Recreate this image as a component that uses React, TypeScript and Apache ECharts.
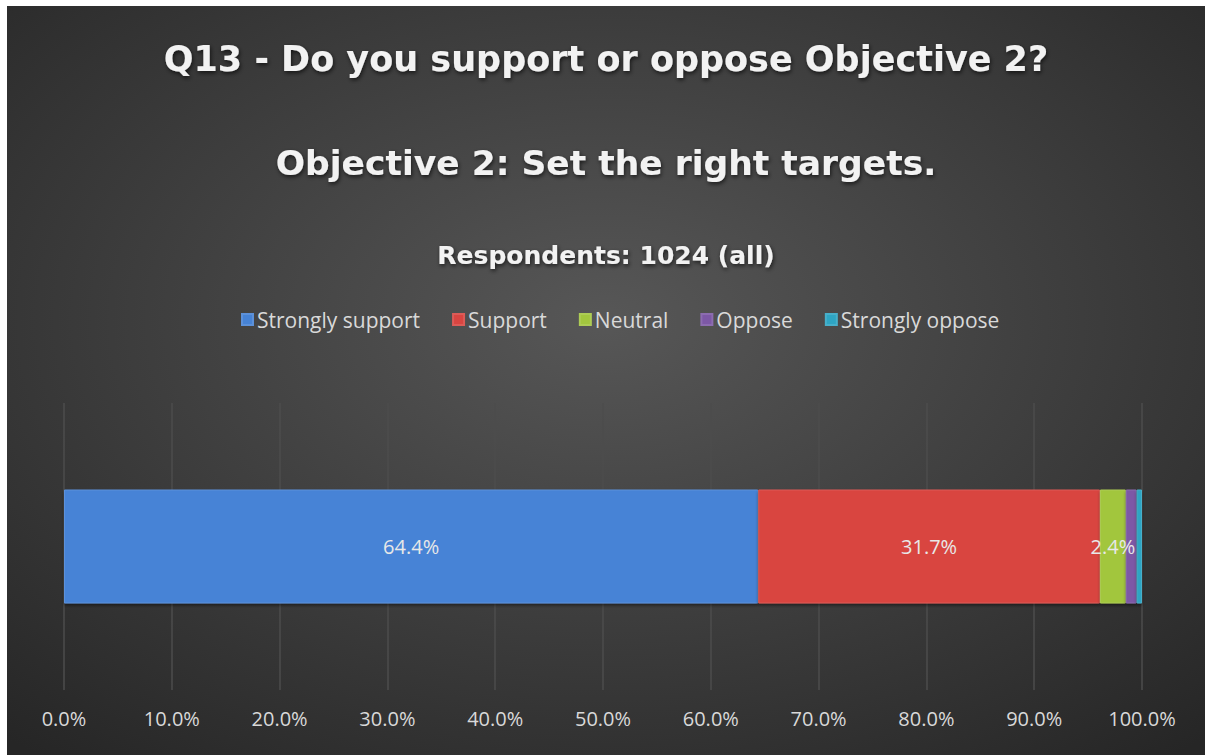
import React, { useEffect, useRef } from "react";
import * as echarts from "echarts";

const categories = ["Q13"];
const seriesNames = ["Strongly support", "Support", "Neutral", "Oppose", "Strongly oppose"];
const seriesValues = [64.4, 31.7, 2.4, 1.0, 0.5];
const seriesColors = ["#4683d6", "#d94541", "#a2c63e", "#7d58a6", "#2ea5c3"];
const showLabel = [true, true, true, false, false];
const xTicks = { min: 0, max: 100, interval: 10 };
const titleLines = [
  "Q13 - Do you support or oppose Objective 2?",
  "Objective 2: Set the right targets.",
  "Respondents: 1024 (all)",
];

export default function App() {
  const ref = useRef<HTMLDivElement>(null);
  useEffect(() => {
    document.body.style.margin = "0";
    const chart = echarts.init(ref.current!, null, { renderer: "svg" });
    const shadow = {
      textShadowColor: "rgba(0,0,0,0.65)",
      textShadowBlur: 4,
      textShadowOffsetX: 1,
      textShadowOffsetY: 2,
    };
    chart.setOption({
      animation: false,
      backgroundColor: {
        type: "radial",
        x: 0.5,
        y: 0.42,
        r: 0.75,
        colorStops: [
          { offset: 0, color: "#575757" },
          { offset: 1, color: "#262626" },
        ],
      },
      title: [
        {
          text: titleLines[0],
          left: "center",
          top: 30,
          textStyle: { fontFamily: "DejaVu Sans", fontWeight: "bold", fontSize: 35, color: "#f2f2f2", ...shadow },
        },
        {
          text: titleLines[1],
          left: "center",
          top: 134,
          textStyle: { fontFamily: "DejaVu Sans", fontWeight: "bold", fontSize: 34.5, color: "#f2f2f2", ...shadow },
        },
        {
          text: titleLines[2],
          left: "center",
          top: 232,
          textStyle: { fontFamily: "DejaVu Sans", fontWeight: "bold", fontSize: 25, color: "#f2f2f2", ...shadow },
        },
      ],
      legend: {
        data: seriesNames,
        top: 298,
        left: 229,
        icon: "rect",
        itemWidth: 11,
        itemHeight: 11,
        itemGap: 32,
        textStyle: { fontFamily: "Open Sans", fontSize: 21, color: "#d9d9d9", padding: [0, 0, 0, -1] },
      },
      grid: { left: 57, right: 63, top: 397, bottom: 65, containLabel: false },
      xAxis: {
        type: "value",
        min: xTicks.min,
        max: xTicks.max,
        interval: xTicks.interval,
        axisLine: { show: false },
        axisTick: { show: false },
        splitLine: { lineStyle: { color: "#4c4c4c", width: 1.5 } },
        axisLabel: {
          margin: 18,
          fontFamily: "Open Sans",
          fontSize: 20,
          color: "#d9d9d9",
          formatter: (v: number) => v.toFixed(1) + "%",
        },
      },
      yAxis: {
        type: "category",
        data: categories,
        show: false,
      },
      series: seriesNames.map((name, i) => ({
        name,
        type: "bar",
        stack: "total",
        barWidth: 114,
        data: [seriesValues[i]],
        itemStyle: {
          color: seriesColors[i],
          borderColor: echarts.color.lift(seriesColors[i], 0.12),
          borderWidth: 1,
          shadowColor: "rgba(0,0,0,0.45)",
          shadowBlur: 3,
          shadowOffsetY: 2,
        },
        label: {
          show: showLabel[i],
          position: "inside",
          fontFamily: "Open Sans",
          fontSize: 20,
          color: "#e8e8e8",
          formatter: (p: any) => Number(p.value).toFixed(1) + "%",
        },
      })),
    });
    return () => chart.dispose();
  }, []);
  return (
    <div
      ref={ref}
      style={{ position: "absolute", left: 7, top: 6, width: 1198, height: 749 }}
    />
  );
}
